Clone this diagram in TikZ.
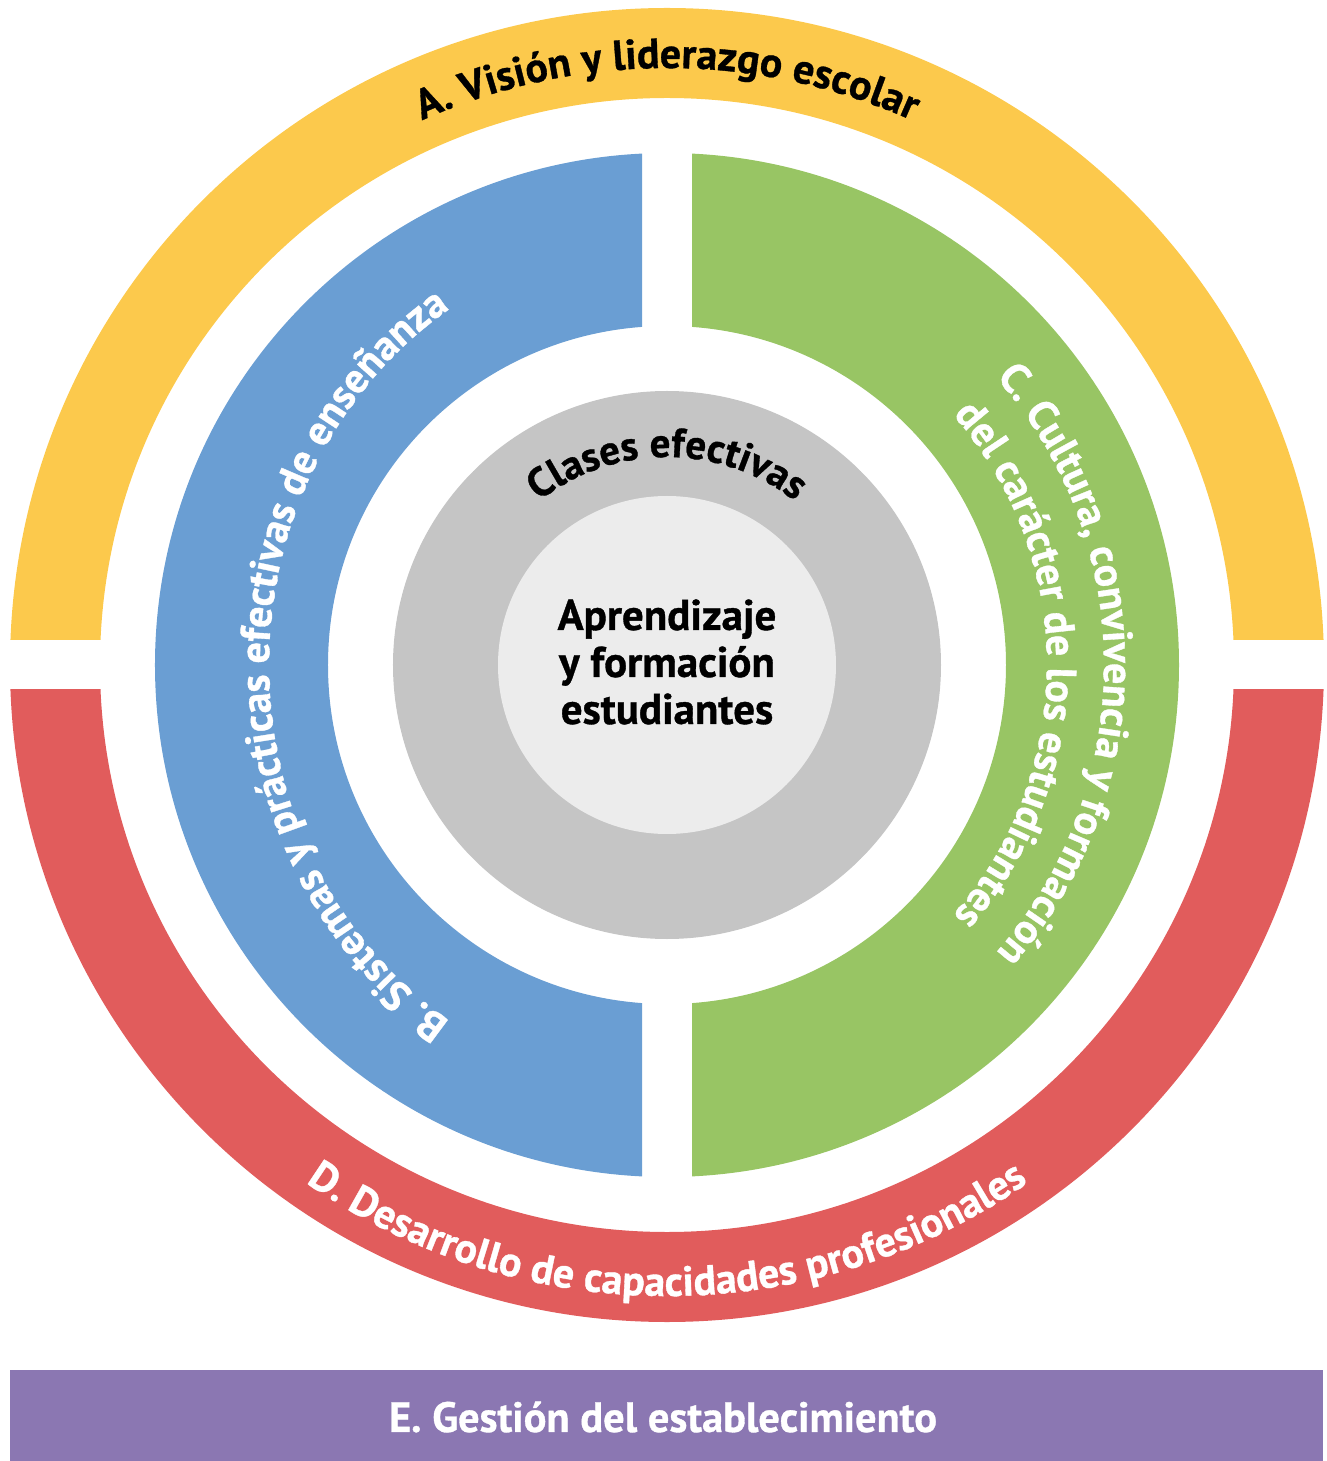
\documentclass[tikz,border=0pt]{standalone}
\usepackage{fontspec}
\setmainfont{PT Sans}[BoldFeatures={FakeBold=0.8}]
\usetikzlibrary{decorations.text}

\definecolor{visionyellow}{HTML}{FCC94C}
\definecolor{teachblue}{HTML}{6A9ED3}
\definecolor{cultgreen}{HTML}{98C564}
\definecolor{devred}{HTML}{E15C5C}
\definecolor{mgmtpurple}{HTML}{8B77B2}
\definecolor{classgray}{HTML}{C5C5C5}
\definecolor{coregray}{HTML}{ECECEC}

\newcommand{\ringfont}{\bfseries\fontsize{21}{25}\selectfont}

\begin{document}
\begin{tikzpicture}[x=0.5pt, y=0.5pt]
    \useasboundingbox (-667,-796) rectangle (660,665);

    % outer ring: top half and bottom half
    \begin{scope}
        \clip (-700,25) rectangle (700,700);
        \fill[visionyellow, even odd rule] (0,0) circle[radius=657] (0,0) circle[radius=567];
    \end{scope}
    \begin{scope}
        \clip (-700,-25) rectangle (700,-700);
        \fill[devred, even odd rule] (0,0) circle[radius=657] (0,0) circle[radius=567];
    \end{scope}

    % middle ring: left and right halves
    \begin{scope}
        \clip (-25,-600) rectangle (-600,600);
        \fill[teachblue, even odd rule] (0,0) circle[radius=512] (0,0) circle[radius=339];
    \end{scope}
    \begin{scope}
        \clip (25,-600) rectangle (600,600);
        \fill[cultgreen, even odd rule] (0,0) circle[radius=512] (0,0) circle[radius=339];
    \end{scope}

    % core
    \fill[classgray] (0,0) circle[radius=274];
    \fill[coregray] (0,0) circle[radius=169];

    % labels on the rings
    \path[decorate, decoration={text along path, text align=center,
        text={|\ringfont|A. Visión y liderazgo escolar}}]
        (180:597) arc[start angle=180, end angle=0, radius=597];
    \path[decorate, decoration={text along path, text align=center, text color=white,
        text={|\ringfont|D. Desarrollo de capacidades profesionales}}]
        (180:631) arc[start angle=180, end angle=360, radius=631];
    \path[decorate, decoration={text along path, text align=center, text color=white,
        text={|\ringfont|B. Sistemas y prácticas efectivas de enseñanza}}]
        (0,-425) arc[start angle=270, end angle=90, x radius=398, y radius=425];
    \path[decorate, decoration={text along path, text align=center, text color=white,
        text={|\ringfont|C. Cultura, convivencia y formación}}]
        (90:437) arc[start angle=90, end angle=-90, radius=437];
    \path[decorate, decoration={text along path, text align=center, text color=white,
        text={|\ringfont|del carácter de los estudiantes}}]
        (90:380) arc[start angle=90, end angle=-90, radius=380];
    \path[decorate, decoration={text along path, text align=center,
        text={|\bfseries\fontsize{20.5}{24}\selectfont|Clases efectivas}}]
        (180:208) arc[start angle=180, end angle=0, radius=208];

    \node[align=center, font=\bfseries\fontsize{21.5}{23.5}\selectfont] (core) at (0,3)
        {Aprendizaje\\y formación\\estudiantes};

    % bottom bar
    \fill[mgmtpurple] (-657,-705) rectangle (656,-796);
    \node[text=white, font=\bfseries\fontsize{21.2}{25}\selectfont] (mgmt) at (-4,-752)
        {E. Gestión del establecimiento};
\end{tikzpicture}
\end{document}
